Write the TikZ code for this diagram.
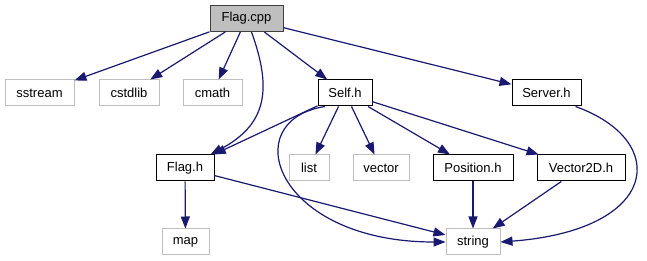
\documentclass[tikz,border=0pt]{standalone}
\usepackage{fontspec}
\setmainfont{Liberation Sans}
\usetikzlibrary{arrows.meta}

\definecolor{edgeblue}{HTML}{191970}
\definecolor{sysgray}{HTML}{BFBFBF}

\begin{document}
\begin{tikzpicture}[x=1pt, y=-1pt,
  font=\fontsize{13}{15}\selectfont,
  box/.style={draw, line width=1pt, inner sep=0pt, minimum height=26pt, fill=white},
  root/.style={box, draw=black!75, fill=sysgray},
  hdr/.style={box, draw=black},
  sys/.style={box, draw=sysgray},
  dep/.style={edgeblue, line width=1.2pt, -{Triangle[length=12pt, width=9pt]}}]

\useasboundingbox (0,0) rectangle (647,261);

% top file
\node[root, minimum width=73pt] (fcpp) at (246.5,18.5) {Flag.cpp};

% first row
\node[sys, minimum width=69pt] (sstream) at (39.5,93) {sstream};
\node[sys, minimum width=60pt] (cstdlib) at (129,93) {cstdlib};
\node[sys, minimum width=59pt] (cmath) at (212.5,93) {cmath};
\node[hdr, minimum width=54pt] (selfh) at (345,93) {Self.h};
\node[hdr, minimum width=69pt] (serverh) at (546.5,93) {Server.h};

% second row
\node[hdr, minimum width=58pt] (flagh) at (185,168) {Flag.h};
\node[sys, minimum width=40pt] (list) at (309,168) {list};
\node[sys, minimum width=56pt] (vector) at (381,168) {vector};
\node[hdr, minimum width=80pt] (posh) at (473,168) {Position.h};
\node[hdr, minimum width=88pt] (vech) at (581,168) {Vector2D.h};

% third row
\node[sys, minimum width=47pt] (map) at (185.5,242) {map};
\node[sys, minimum width=54pt] (string) at (473,242) {string};

% includes of Flag.cpp
\draw[dep] (fcpp) -- (sstream);
\draw[dep] (fcpp) -- (cstdlib);
\draw[dep] (fcpp) -- (cmath);
\draw[dep] ([xshift=5pt]fcpp.south) .. controls +(21,58) and +(56,-30) .. ([xshift=-4pt]flagh.north east);
\draw[dep] (fcpp) -- (selfh);
\draw[dep] (fcpp) -- (serverh);

% includes of Self.h
\draw[dep] (selfh) -- (flagh);
\draw[dep] ([xshift=-20pt]selfh.south) .. controls +(-90,14) and +(-170,0) .. (string.west);
\draw[dep] (selfh) -- (list);
\draw[dep] (selfh) -- (vector);
\draw[dep] (selfh) -- (posh);
\draw[dep] (selfh) -- (vech);

% the rest
\draw[dep] (serverh.south east) ++(-6,0) .. controls +(95,34) and +(160,-12) .. (string.east);
\draw[dep] (flagh) -- (map);
\draw[dep] (flagh) -- (string);
\draw[dep] (posh) -- (string);
\draw[dep] (vech) -- (string);

\end{tikzpicture}
\end{document}
